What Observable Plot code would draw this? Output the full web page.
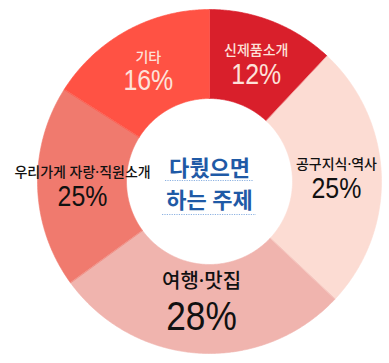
<!DOCTYPE html>
<html><head><meta charset="utf-8">
<script src="https://cdn.jsdelivr.net/npm/d3@7"></script>
<script src="https://cdn.jsdelivr.net/npm/@observablehq/plot@0.6"></script>
<style>
body{margin:0;background:#fff}
svg{display:block}
</style>
</head><body><div id="chart"></div>
<script>
// categories, clockwise from 12 o'clock
const categories = ["신제품소개", "공구지식·역사", "여행·맛집", "우리가게 자랑·직원소개", "기타"];
// printed percentage labels
const percentLabels = ["12%", "25%", "28%", "25%", "16%"];
// arc sizes as drawn in the picture (share of the full circle, %)
const drawnShares = [12, 25, 28, 19, 16];
const sliceColors = ["#D91F2B", "#FCDCD3", "#F0B4AE", "#F07A6E", "#FF5244"];
const centerTitle = ["다뤘으면", "하는 주제"];

const W = 389, H = 363, cx = 209, cy = 181, R = 172, r0 = 83;
const inner = r0 / R;
const labelR = 127 / R;
const total = d3.sum(drawnShares);

let acc = 0;
const slices = categories.map((c, i) => {
  const a0 = acc / total * 2 * Math.PI;
  acc += drawnShares[i];
  const a1 = acc / total * 2 * Math.PI;
  return {c, i, a0, a1, mid: (a0 + a1) / 2};
});

const poly = [];
for (const s of slices) {
  const n = Math.max(2, Math.ceil((s.a1 - s.a0) / (Math.PI / 360)));
  for (let k = 0; k <= n; k++) {
    const a = s.a0 + (s.a1 - s.a0) * k / n;
    poly.push({c: s.c, x: Math.sin(a), y: Math.cos(a)});
  }
  for (let k = n; k >= 0; k--) {
    const a = s.a0 + (s.a1 - s.a0) * k / n;
    poly.push({c: s.c, x: inner * Math.sin(a), y: inner * Math.cos(a)});
  }
}

const maxShare = d3.max(drawnShares);
const labels = slices.map(s => ({
  name: s.c,
  pct: percentLabels[s.i],
  x: labelR * Math.sin(s.mid),
  y: labelR * Math.cos(s.mid),
  big: drawnShares[s.i] === maxShare,
  ink: d3.lab(sliceColors[s.i]).l < 62 ? "#FDE2DA" : "#111111"
}));
const normal = labels.filter(d => !d.big);
const big = labels.filter(d => d.big);

const korFont = "'Noto Sans', 'Noto Sans CJK KR', sans-serif";
const numFont = "'Liberation Sans', Arial, sans-serif";
const titleSize = 22;
const titleRows = centerTitle.map((t, i) => ({t, i, half: (t.replace(/ /g, "").length * titleSize + (t.includes(" ") ? 6 : 0)) / 2 / R}));

const chart = Plot.plot({
  width: W, height: H,
  margin: 0,
  x: {domain: [-1, 1], range: [cx - R, cx + R], axis: null},
  y: {domain: [-1, 1], range: [cy + R, cy - R], axis: null},
  color: {domain: categories, range: sliceColors},
  style: {background: "#fff"},
  marks: [
    Plot.line(poly, {x: "x", y: "y", z: "c", fill: "c", stroke: "c", strokeWidth: 0.6, curve: "linear-closed"}),
    Plot.text(normal, {x: "x", y: "y", text: "name", fill: "ink", dy: -13, fontSize: 14, fontWeight: 500, fontFamily: korFont, letterSpacing: -0.5}),
    Plot.text(normal, {x: "x", y: "y", text: "pct", fill: "ink", dy: 11, fontSize: 29, fontFamily: numFont, letterSpacing: -0.5, className: "pct"}),
    Plot.text(big, {x: "x", y: "y", text: "name", fill: "ink", dy: -27, fontSize: 20, fontWeight: 500, fontFamily: korFont, letterSpacing: -0.8}),
    Plot.text(big, {x: "x", y: "y", text: "pct", fill: "ink", dy: 9, fontSize: 41, fontFamily: numFont, letterSpacing: -1, className: "pct"}),
    Plot.ruleY(titleRows.filter(d => d.i === 0), {y: 0, x1: d => -d.half, x2: d => d.half, dy: -1, stroke: "#8DB2E2", strokeWidth: 1.2, strokeDasharray: "1.2,1.2"}),
    Plot.ruleY(titleRows.filter(d => d.i === 1), {y: 0, x1: d => -d.half, x2: d => d.half, dy: 33, stroke: "#8DB2E2", strokeWidth: 1.2, strokeDasharray: "1.2,1.2"}),
    Plot.text(titleRows.filter(d => d.i === 0), {x: 0, y: 0, text: "t", dy: -13, fill: "#1F5AA6", fontSize: titleSize, fontWeight: 600, fontFamily: korFont, letterSpacing: -0.5}),
    Plot.text(titleRows.filter(d => d.i === 1), {x: 0, y: 0, text: "t", dy: 19, fill: "#1F5AA6", fontSize: titleSize, fontWeight: 600, fontFamily: korFont, letterSpacing: -0.5})
  ]
});
document.getElementById("chart").append(chart);
// horizontally condense the percentage figures, like the narrow face of the original
chart.querySelectorAll("g.pct text").forEach(t => {
  const w = t.getComputedTextLength();
  t.setAttribute("textLength", (w * 0.86).toFixed(1));
  t.setAttribute("lengthAdjust", "spacingAndGlyphs");
});
</script>
</body></html>
